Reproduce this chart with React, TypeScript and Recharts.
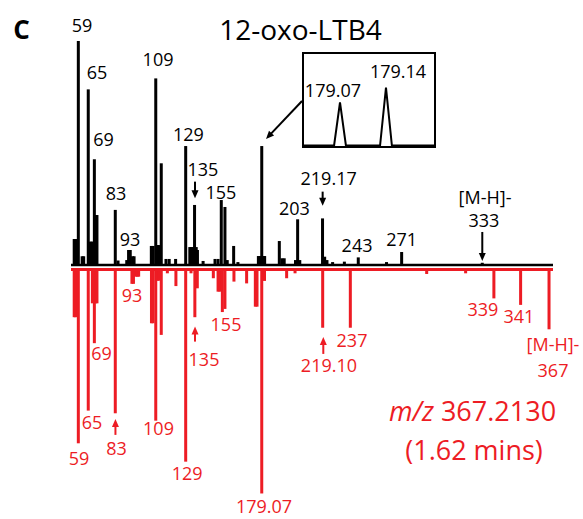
import React from 'react';
import { ComposedChart, Bar, Scatter, Line, XAxis, YAxis, ReferenceLine } from 'recharts';

const RED = '#ED1C24';
const FONT = '"Open Sans", "Noto Sans", sans-serif';

// ---- Upper (black) spectrum: m/z position and relative intensity (%) ----
const blackMz = [56.3, 57.2, 59.0, 61.5, 62.5, 65.5, 66.6, 67.5, 68.3, 69.5, 70.6, 71.2, 83.2, 85.0, 90.7, 91.9, 93.0, 94.5, 95.5,
  106.8, 108.0, 109.7, 110.8, 111.6, 113.3, 116.4, 118.5, 122.7, 129.3, 132.0, 133.0, 134.0, 135.1, 136.2, 137.0, 140.7,
  148.5, 150.5, 152.6, 155.0, 156.5, 160.7, 163.5, 176.9, 178.0, 179.1, 180.2, 181.0, 190.6, 192.3, 193.8, 201.2, 202.6,
  204.0, 218.9, 220.3, 221.8, 225.5, 233.2, 242.3, 260.8, 270.7, 323.5];
const blackInt = [11.6, 11.6, 100, 3.9, 3.9, 78.4, 10.4, 10.4, 10.4, 47.2, 22.3, 22.3, 24.6, 2.0, 2.2, 6.7, 6.7, 3.9, 3.9,
  8.5, 8.5, 83.3, 8.9, 8.9, 45.4, 2.7, 2.7, 2.7, 53.1, 8.0, 8.0, 8.0, 26.8, 8.0, 6.7, 1.8,
  2.7, 2.7, 29.0, 25.9, 2.2, 8.5, 1.3, 4.0, 4.0, 53.1, 4.0, 4.0, 10.7, 3.0, 3.0, 2.2, 20.4,
  2.2, 20.8, 3.7, 2.2, 1.3, 1.5, 3.4, 1.3, 5.8, 1.0];

// ---- Lower (red) spectrum ----
const redMz = [56.3, 57.2, 59.0, 65.5, 68.2, 69.5, 70.3, 71.2, 83.2, 94.1, 95.1, 96.5, 97.6, 98.5, 106.9, 107.9, 109.7, 110.8,
  111.6, 113.3, 117.3, 122.9, 129.3, 132.8, 135.3, 136.9, 147.4, 150.5, 151.7, 153.3, 155.0, 160.9, 169.2, 174.9, 176.0,
  179.1, 180.9, 195.4, 200.9, 219.0, 237.1, 287.1, 312.6, 331.1, 348.6, 367.2];
const redInt = [21.3, 21.3, 77.6, 63.0, 15.1, 32.9, 15.1, 15.1, 64.2, 6.4, 6.4, 3.2, 3.2, 3.2, 24.0, 24.0, 67.5, 5.0,
  5.0, 29.2, 1.7, 7.4, 85.8, 1.7, 21.3, 8.4, 3.9, 9.9, 9.9, 19.0, 17.6, 5.4, 6.2, 16.6, 16.6,
  100, 5.1, 3.9, 1.7, 26.0, 26.0, 2.0, 1.7, 12.9, 15.8, 26.7];

// ---- Peak labels (text, m/z, height in intensity units) ----
const blackLabelText = ['59', '65', '69', '83', '93', '109', '129', '135', '155', '203', '219.17', '243', '271', '[M-H]-', '333'];
const blackLabelMz = [61.4, 71.2, 75.5, 83.7, 92.8, 111.2, 131.1, 140.6, 152.4, 200.5, 222.9, 241.5, 270.7, 325.3, 324.6];
const blackLabelY = [106.7, 85.9, 55.8, 31.8, 11.3, 91.7, 58.3, 42.4, 32.4, 25.4, 38.8, 8.5, 11.2, 30.1, 19.9];

const redLabelText = ['93', '69', '135', '155', '65', '83', '59', '109', '129', '179.07', '219.10', '237', '339', '341', '[M-H]-', '367'];
const redLabelMz = [94.1, 74.2, 141.3, 155.7, 68.0, 84.0, 59.4, 111.5, 130.2, 180.6, 223.1, 238.2, 323.9, 347.5, 369.8, 369.8];
const redLabelY = [11.6, 37.7, 40.4, 24.8, 68.5, 80.1, 84.6, 71.2, 91.3, 106.0, 42.9, 31.9, 17.9, 20.8, 33.7, 45.1];

const noteMz = [317.1, 318.1];
const noteY = [63.2, 80.6];
const notePrefix = ['m/z', ''];
const noteText = [' 367.2130', '(1.62 mins)'];

// ---- Arrows (tip position) ----
const blackArrowMz = [135.4, 218.97, 323.5, 181.9];
const blackArrowY = [29.8, 26.5, 1.8, 56.25];
const blackArrowTail = [[0, -16.6], [0, -14], [0, -29], [36, -38]];
const redArrowMz = [83.3, 135.4, 219.4];
const redArrowY = [66.7, 25.5, 30.1];
const redArrowTail = [[0, 16], [0, 15], [0, 17]];

// ---- Inset: high-resolution view around m/z 179 ----
const insetMz = [179.0152, 179.061, 179.07, 179.079, 179.131, 179.14, 179.149, 179.2131];
const insetInt = [0, 0, 0.472, 0, 0, 0.632, 0, 0];
const insetLabelText = ['179.07', '179.14'];
const insetLabelMz = [179.0593, 179.1583];
const insetLabelY = [0.601, 0.803];

const X_DOMAIN: [number, number] = [54.2, 369.8];
const TOP_MAX = 118.3;
const BOT_MAX = 111.4;

const topData = blackMz.map((mz, k) => ({ mz, i: blackInt[k] }));
const botData = redMz.map((mz, k) => ({ mz, i: redInt[k] }));
const blackLabels = blackLabelText.map((text, k) => ({ text, mz: blackLabelMz[k], ly: blackLabelY[k] }));
const redLabels = redLabelText.map((text, k) => ({ text, mz: redLabelMz[k], ly: redLabelY[k] }));
const notes = noteText.map((text, k) => ({ text, prefix: notePrefix[k], mz: noteMz[k], ly: noteY[k] }));
const blackArrows = blackArrowMz.map((mz, k) => ({ mz, ly: blackArrowY[k], k }));
const redArrows = redArrowMz.map((mz, k) => ({ mz, ly: redArrowY[k], k }));
const insetData = insetMz.map((mz, k) => ({ mz, i: insetInt[k] }));
const insetLabels = insetLabelText.map((text, k) => ({ text, mz: insetLabelMz[k], ly: insetLabelY[k] }));

const Stick = (props: any) => {
  const { x, y, width, height, fill } = props;
  if (x == null || y == null || height == null) return null;
  const cx = x + (width || 0) / 2;
  const top = Math.min(y, y + height);
  return <rect x={cx - 1.5} y={top} width={3} height={Math.abs(height)} fill={fill} />;
};

const makeLabel = (color: string, size: number) => (props: any) => {
  const { cx, cy, payload } = props;
  if (cx == null || cy == null) return null;
  return (
    <text x={cx} y={cy + size * 0.357} textAnchor="middle" fill={color} fontSize={size} fontFamily={FONT}>
      {payload.text}
    </text>
  );
};

const NoteShape = (props: any) => {
  const { cx, cy, payload } = props;
  if (cx == null || cy == null) return null;
  const size = 27;
  return (
    <text x={cx} y={cy + size * 0.357} textAnchor="middle" fill={RED} fontSize={size} fontFamily={FONT}>
      {payload.prefix ? <tspan fontStyle="italic">{payload.prefix}</tspan> : null}
      {payload.text}
    </text>
  );
};

const makeArrow = (color: string, tails: number[][]) => (props: any) => {
  const { cx, cy, payload } = props;
  if (cx == null || cy == null) return null;
  const [tdx, tdy] = tails[payload.k];
  const tx = cx + tdx;
  const ty = cy + tdy;
  const len = Math.hypot(tdx, tdy);
  const ux = -tdx / len;
  const uy = -tdy / len; // direction tail -> tip
  const hl = 8;
  const hw = 3.5;
  const bx = cx - ux * hl;
  const by = cy - uy * hl;
  const px = -uy;
  const py = ux;
  return (
    <g>
      <line x1={tx} y1={ty} x2={bx + ux * 1} y2={by + uy * 1} stroke={color} strokeWidth={2} />
      <polygon points={`${cx},${cy} ${bx + px * hw},${by + py * hw} ${bx - px * hw},${by - py * hw}`} fill={color} />
    </g>
  );
};

const blackLabelShape = makeLabel('#000', 18);
const redLabelShape = makeLabel(RED, 18);
const insetLabelShape = makeLabel('#000', 18);
const blackArrowShape = makeArrow('#000', blackArrowTail);
const redArrowShape = makeArrow(RED, redArrowTail);

export default function App() {
  return (
    <div style={{ position: 'absolute', left: 0, top: 0, width: 583, height: 519, background: '#fff', overflow: 'hidden' }}>
      <style>{`.recharts-surface { overflow: visible; }`}</style>

      <svg style={{ position: 'absolute', left: 0, top: 0 }} width={583} height={60}>
        <text x={21.5} y={39.3} textAnchor="middle" fontSize={26} fontWeight="bold" fontFamily={FONT} fill="#000">C</text>
        <text x={300.5} y={40} textAnchor="middle" fontSize={28} fontFamily={FONT} fill="#000">12-oxo-LTB4</text>
      </svg>

      <div style={{ position: 'absolute', left: 0, top: 0 }}>
        <ComposedChart width={583} height={272} data={topData} margin={{ top: 0, right: 30, bottom: 7, left: 71 }}>
          <XAxis type="number" dataKey="mz" domain={X_DOMAIN} hide />
          <YAxis type="number" domain={[0, TOP_MAX]} hide />
          <Bar dataKey="i" fill="#000" barSize={3} shape={Stick} isAnimationActive={false} />
          <ReferenceLine y={0} stroke="#000" strokeWidth={2.5} />
          <Scatter data={blackLabels} dataKey="ly" shape={blackLabelShape} isAnimationActive={false} />
          <Scatter data={blackArrows} dataKey="ly" shape={blackArrowShape} isAnimationActive={false} />
        </ComposedChart>
      </div>

      <div style={{ position: 'absolute', left: 0, top: 262 }}>
        <ComposedChart width={583} height={257} data={botData} margin={{ top: 7.5, right: 30, bottom: 0, left: 71 }}>
          <XAxis type="number" dataKey="mz" domain={X_DOMAIN} hide />
          <YAxis type="number" domain={[0, BOT_MAX]} reversed hide />
          <Bar dataKey="i" fill={RED} barSize={3} shape={Stick} isAnimationActive={false} />
          <ReferenceLine y={0} stroke={RED} strokeWidth={3} />
          <Scatter data={redLabels} dataKey="ly" shape={redLabelShape} isAnimationActive={false} />
          <Scatter data={redArrows} dataKey="ly" shape={redArrowShape} isAnimationActive={false} />
          <Scatter data={notes} dataKey="ly" shape={NoteShape} isAnimationActive={false} />
        </ComposedChart>
      </div>

      <div style={{ position: 'absolute', left: 302, top: 52, width: 134, height: 95.5, border: '2px solid #000', boxSizing: 'border-box', background: '#fff' }}>
        <ComposedChart width={130} height={91.5} data={insetData} margin={{ top: 0, right: 0, bottom: 0, left: 0 }}>
          <XAxis type="number" dataKey="mz" domain={[179.0152, 179.2131]} hide />
          <YAxis type="number" domain={[0, 1]} hide />
          <Line type="linear" dataKey="i" stroke="#000" strokeWidth={2} dot={false} isAnimationActive={false} />
          <Scatter data={insetLabels} dataKey="ly" shape={insetLabelShape} isAnimationActive={false} />
        </ComposedChart>
      </div>
    </div>
  );
}
